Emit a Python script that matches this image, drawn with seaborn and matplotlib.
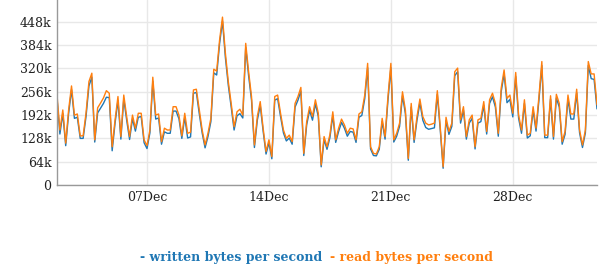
import numpy as np
import pandas as pd
import matplotlib
matplotlib.use("Agg")
import matplotlib.pyplot as plt
import matplotlib.dates as mdates
from matplotlib.offsetbox import TextArea, HPacker, AnchoredOffsetbox
import seaborn as sns

# values in kB/s (k = 1000 bytes), one sample every 4 hours
read_k = [247,151,206,115,206,272,192,195,135,135,198,284,307,124,212,225,239,259,252,105,179,243,133,247,188,133,192,156,197,197,124,108,151,
          296,192,195,119,156,151,151,215,215,192,135,197,142,145,261,263,206,151,110,142,183,318,313,398,461,362,284,224,160,201,208,
          192,389,311,243,110,188,229,156,92,124,78,243,247,197,151,128,137,119,224,243,268,87,174,215,188,234,197,55,133,105,
          138,201,124,156,181,165,142,156,154,124,195,201,247,334,105,87,85,105,183,133,243,334,124,142,170,256,206,73,224,124,188,
          236,188,170,165,167,170,259,160,50,186,147,170,311,321,179,215,133,179,192,105,179,183,229,147,234,252,224,142,266,316,238,
          247,197,309,192,151,234,137,142,215,156,243,339,137,137,245,133,249,224,119,147,247,195,195,263,151,110,151,339,305,305,220]
written_k = [238,140,196,108,196,262,183,186,128,128,188,272,296,118,198,211,224,241,240,94,170,232,126,236,178,125,182,148,186,188,116,100,143,
             285,181,184,112,146,142,142,203,203,182,128,186,129,132,252,254,196,143,102,133,174,308,302,388,450,350,274,214,151,190,196,
             184,378,300,233,103,178,219,148,85,116,72,233,237,188,143,121,129,112,214,233,258,81,165,205,178,223,188,50,125,98,
             130,191,117,147,172,156,134,147,145,117,186,191,237,322,99,81,80,98,174,126,233,322,118,134,161,245,196,68,214,117,178,
             226,178,158,153,155,157,249,152,46,177,139,161,300,311,170,205,126,170,183,99,170,174,219,140,224,242,214,134,256,305,226,
             235,187,298,183,142,224,129,135,205,148,233,328,130,130,236,126,239,214,112,139,236,181,181,253,143,103,143,328,292,290,209]
start_time = "2023-12-01 20:00"
y_ticks_k = [0, 64, 128, 192, 256, 320, 384, 448]
x_tick_days = ["2023-12-07", "2023-12-14", "2023-12-21", "2023-12-28"]
series_names = ["written bytes per second", "read bytes per second"]
colors = ["#1f77b4", "#ff7f0e"]

n = len(read_k)
times = pd.date_range(start_time, periods=n, freq="4h")
df = pd.DataFrame({
    "time": np.concatenate([times, times]),
    "value": np.concatenate([np.array(written_k) * 1000.0, np.array(read_k) * 1000.0]),
    "series": [series_names[0]] * n + [series_names[1]] * n,
})

sns.set_theme(style="white")
plt.rcParams["font.family"] = ["DejaVu Serif"]

fig = plt.figure(figsize=(6.03, 2.70), dpi=100)
ax = fig.add_axes([57 / 603, 1 - 185 / 270, (597 - 57) / 603, 185 / 270])

sns.lineplot(data=df, x="time", y="value", hue="series", palette=colors,
             hue_order=series_names, linewidth=1.0, ax=ax, legend=False)

ax.set_xlim(times[0], times[-1])
ax.set_ylim(0, 508000)
ax.set_yticks([v * 1000 for v in y_ticks_k])
ax.set_yticklabels(["0" if v == 0 else f"{v}k" for v in y_ticks_k])
ax.set_xticks(pd.to_datetime(x_tick_days))
ax.xaxis.set_major_formatter(mdates.DateFormatter("%d%b"))
ax.set_xlabel("")
ax.set_ylabel("")
ax.grid(True, color="#e8e8e8", linewidth=1)
ax.set_axisbelow(True)
for s in ["top", "right"]:
    ax.spines[s].set_visible(False)
for s in ["left", "bottom"]:
    ax.spines[s].set_color("#999999")
    ax.spines[s].set_linewidth(1)
ax.tick_params(axis="both", labelsize=9, colors="#222222", length=0, pad=4)

# legend as colored text
items = []
for name, c in zip(series_names, colors):
    items.append(TextArea("- " + name, textprops=dict(color=c, fontsize=9, fontweight="bold",
                                                      family="DejaVu Serif")))
pack = HPacker(children=items, align="center", pad=0, sep=6)
anch = AnchoredOffsetbox(loc="center", child=pack, pad=0, frameon=False,
                         bbox_to_anchor=(0.525, 1 - 258 / 270),
                         bbox_transform=fig.transFigure, borderpad=0)
fig.add_artist(anch)

fig.savefig("out.png", dpi=100)
